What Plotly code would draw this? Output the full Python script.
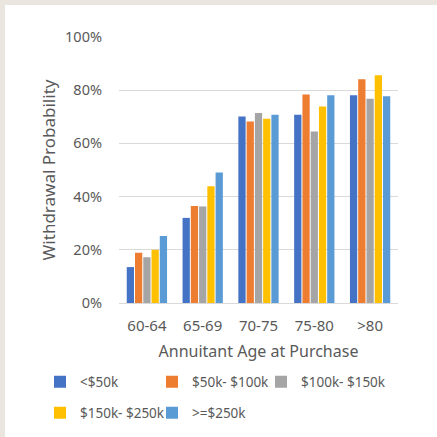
import plotly.graph_objects as go

# Age bands at purchase and withdrawal probability by premium size
age_bands = ["60-64", "65-69", "70-75", "75-80", ">80"]
series_names = ["<$50k", "$50k- $100k", "$100k- $150k", "$150k- $250k", ">=$250k"]
under_50k = [0.135, 0.320, 0.701, 0.708, 0.781]
k50_100 = [0.189, 0.365, 0.682, 0.784, 0.841]
k100_150 = [0.172, 0.363, 0.714, 0.645, 0.768]
k150_250 = [0.200, 0.439, 0.693, 0.739, 0.856]
k250_plus = [0.252, 0.491, 0.708, 0.781, 0.777]
series_values = [under_50k, k50_100, k100_150, k150_250, k250_plus]
colors = ["#4472C4", "#ED7D31", "#A5A5A5", "#FFC000", "#5B9BD5"]
y_ticks = [0, 0.2, 0.4, 0.6, 0.8, 1.0]
y_tick_text = ["0%", "20%", "40%", "60%", "80%", "100%"]

FONT = "Noto Sans"
GREY = "#595959"

# plot area geometry in pixels
L, R, T, B = 119, 39, 37, 134
W = 437 - L - R
H = 437 - T - B

# one legend box per entry, laid out on two rows (left edge px, row centre px)
legend_spots = [(40, 382), (152, 382), (261, 382), (40, 413), (152, 413)]
legend_ids = ["legend", "legend2", "legend3", "legend4", "legend5"]

fig = go.Figure()
for name, vals, col, lid in zip(series_names, series_values, colors, legend_ids):
    fig.add_trace(go.Bar(
        x=age_bands, y=vals, name=name, marker_color=col,
        marker_line_width=0, legend=lid, showlegend=True,
    ))

legends = {}
for lid, (px, py) in zip(legend_ids, legend_spots):
    legends[lid] = dict(
        orientation="h", x=(px - L) / W, xanchor="left",
        y=(437 - B - py) / H, yanchor="middle",
        font=dict(size=13.5, color=GREY), bgcolor="rgba(0,0,0,0)",
        itemclick=False, visible=True,
    )

fig.update_layout(
    width=437, height=437,
    showlegend=True,
    margin=dict(l=L, r=R, t=T, b=B, autoexpand=False),
    paper_bgcolor="#EAE6DF",
    plot_bgcolor="rgba(0,0,0,0)",
    barmode="group",
    bargap=0.26,
    bargroupgap=0.12,
    font=dict(family=FONT, color=GREY, size=14),
    xaxis=dict(
        showgrid=False, showline=False, zeroline=False, ticks="",
        tickfont=dict(size=15, color=GREY), ticklabelstandoff=12,
        title=dict(text="Annuitant Age at Purchase", font=dict(size=16, color=GREY), standoff=11),
    ),
    yaxis=dict(
        range=[0, 1.0], tickvals=y_ticks, ticktext=y_tick_text,
        showgrid=True, gridcolor="#D9D9D9", gridwidth=1,
        zeroline=True, zerolinecolor="#D9D9D9", zerolinewidth=1,
        showline=False, ticks="", ticklabelstandoff=16,
        tickfont=dict(size=14.5, color=GREY),
        title=dict(text="Withdrawal Probability", font=dict(size=17, color=GREY), standoff=5),
    ),
    shapes=[dict(
        type="rect", xref="paper", yref="paper", layer="below",
        x0=(5 - L) / W, x1=(437 - L) / W + 0.05,
        y0=(437 - B - 437) / H - 0.05, y1=(437 - B - 5) / H,
        fillcolor="white", line_width=0,
    )],
    **legends,
)

fig.write_html("out.html")
